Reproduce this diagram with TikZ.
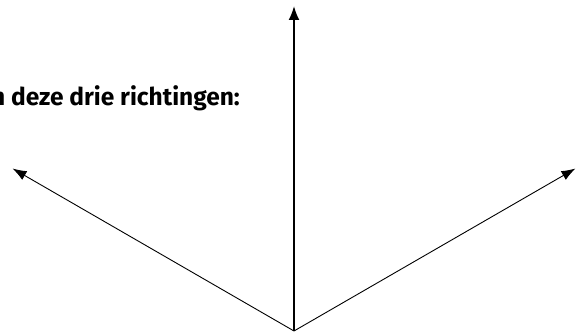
\documentclass[tikz,border=0pt]{standalone}
\usepackage{fontspec}
\usepackage{tikz}
\usetikzlibrary{arrows.meta,positioning,calc}
\setsansfont{Fira Sans}
\definecolor{ink}{HTML}{000000}
\newcommand{\lblfont}{\fontsize{24.5}{29}\selectfont\sffamily\bfseries}

\begin{document}
\begin{tikzpicture}[x=1pt, y=1pt,
    dir/.style={ink, line width=0.9pt, -{Latex[length=14pt, width=10pt]}},
    mainDir/.style={ink, line width=1.8pt, -{Latex[length=14pt, width=11pt]}}]
  \useasboundingbox (0,0) rectangle (583,334);
  \coordinate (o) at (294,3);
  \coordinate (up)    at ($(o)+(90:325)$);
  \coordinate (left)  at ($(o)+(150:325)$);
  \coordinate (right) at ($(o)+(30:325)$);
  \draw[dir] (o) -- (left);
  \draw[dir] (o) -- (right);
  \draw[mainDir] (o) -- (up);
  \node[anchor=base east, inner sep=0pt, font=\lblfont] (lbl) at (240,228)
    {n deze drie richtingen:};
\end{tikzpicture}
\end{document}
